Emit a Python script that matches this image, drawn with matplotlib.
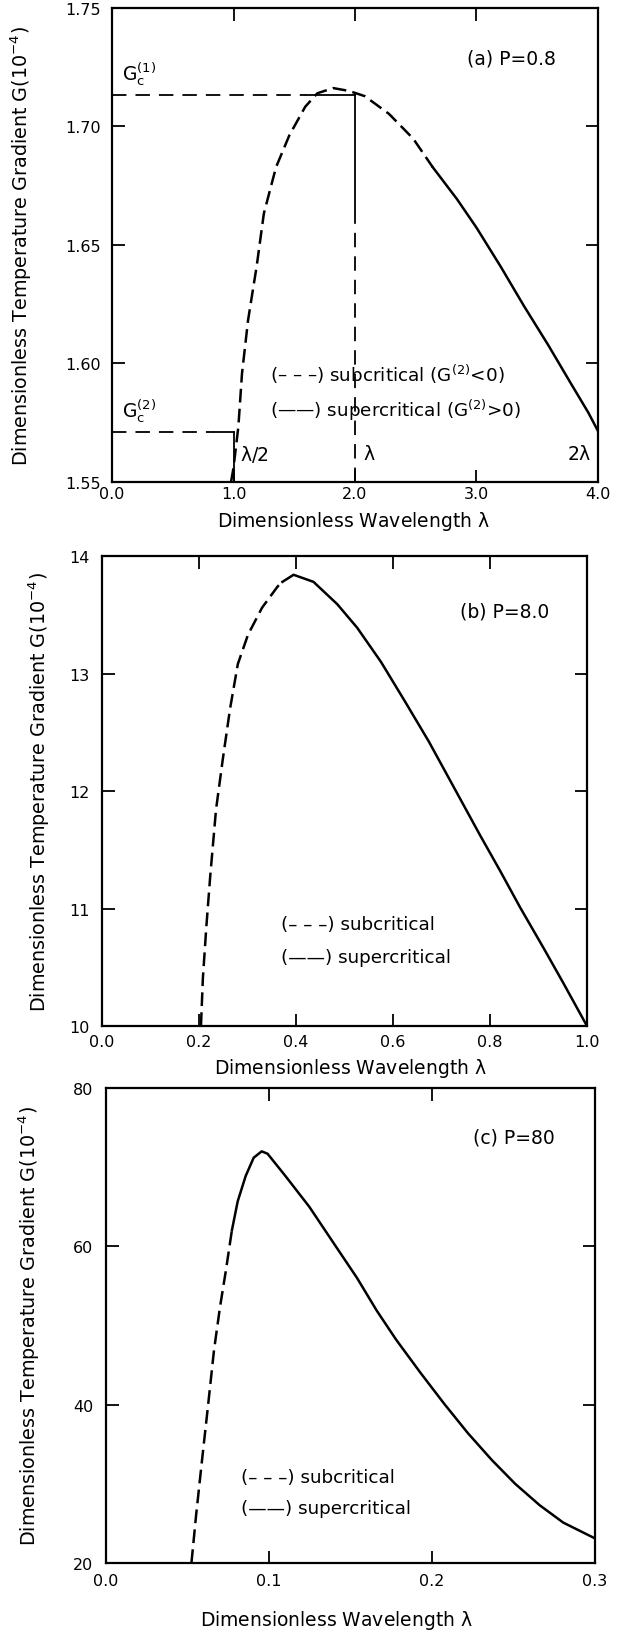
import matplotlib
matplotlib.use("Agg")
import matplotlib.pyplot as plt

plt.rcParams['font.family'] = ['DejaVu Sans']
plt.rcParams['mathtext.default'] = 'regular'

# ---------------- data ----------------
# Panel (a) P = 0.8
lam_a_sub = [0.98, 1.00, 1.04, 1.07, 1.12, 1.19, 1.25, 1.35, 1.46, 1.59, 1.69, 1.82, 1.95, 2.08, 2.28, 2.48, 2.64]
G_a_sub = [1.550, 1.5560, 1.5733, 1.5958, 1.6183, 1.6408, 1.6633, 1.6828, 1.6963, 1.7083, 1.7140, 1.7162, 1.7150, 1.7128, 1.7053, 1.6948, 1.6828]
lam_a_sup = [2.64, 2.84, 3.00, 3.20, 3.39, 3.59, 3.78, 3.92, 4.00]
G_a_sup = [1.6828, 1.6693, 1.6573, 1.6408, 1.6243, 1.6078, 1.5913, 1.5793, 1.5715]
Gc1 = 1.7134
Gc2 = 1.5712

# Panel (b) P = 8.0
lam_b_sub = [0.204, 0.208, 0.215, 0.223, 0.235, 0.249, 0.264, 0.280, 0.301, 0.330, 0.362, 0.372]
G_b_sub = [10.00, 10.41, 10.84, 11.27, 11.84, 12.27, 12.70, 13.08, 13.33, 13.56, 13.74, 13.78]
lam_b_sup = [0.372, 0.395, 0.436, 0.485, 0.526, 0.575, 0.625, 0.674, 0.731, 0.780, 0.821, 0.862, 0.911, 0.952, 1.000]
G_b_sup = [13.78, 13.84, 13.78, 13.59, 13.39, 13.10, 12.76, 12.42, 11.99, 11.62, 11.32, 11.01, 10.66, 10.36, 10.00]

# Panel (c) P = 80
lam_c_sub = [0.0524, 0.0553, 0.0589, 0.0626, 0.0662, 0.0699, 0.0735, 0.0772]
G_c_sub = [20.0, 26.1, 33.0, 39.9, 46.8, 52.3, 56.9, 62.0]
lam_c_sup = [0.0772, 0.0808, 0.0857, 0.0906, 0.0955, 0.0991, 0.110, 0.1247, 0.139, 0.154, 0.166, 0.178, 0.193, 0.2075, 0.222, 0.2367, 0.251, 0.266, 0.2805, 0.300]
G_c_sup = [62.0, 65.7, 68.9, 71.2, 72.0, 71.7, 68.9, 65.0, 60.6, 56.0, 51.9, 48.2, 44.0, 40.1, 36.4, 33.0, 30.0, 27.3, 25.1, 23.1]

xticks_a = [0.0, 1.0, 2.0, 3.0, 4.0]
yticks_a = [1.55, 1.60, 1.65, 1.70, 1.75]
xticks_b = [0.0, 0.2, 0.4, 0.6, 0.8, 1.0]
yticks_b = [10, 11, 12, 13, 14]
xticks_c = [0.0, 0.1, 0.2, 0.3]
yticks_c = [20, 40, 60, 80]

# ---------------- figure ----------------
fig = plt.figure(figsize=(6.24, 16.31), dpi=100)
ax_a = fig.add_axes([0.1795, 0.7039, 0.7788, 0.2906])
ax_b = fig.add_axes([0.1635, 0.3703, 0.7772, 0.2882])
ax_c = fig.add_axes([0.1699, 0.0411, 0.7837, 0.2912])

LW = 1.8
DASH = (5.5, 2.5)
GDASH = (8, 5)
TFS = 11.5
XLFS = 13.5
YLFS = 13.8
AFS = 13.5
LEGFS = 13.2

ylabel = r'Dimensionless Temperature Gradient G(10$^{-4}$)'
xlabel = r'Dimensionless Wavelength $\lambda$'


def style(ax, xticks, yticks, xfmt, yfmt, xpad, ypad):
    ax.set_xticks(xticks)
    ax.set_yticks(yticks)
    ax.set_xticklabels([xfmt.format(v) for v in xticks], fontsize=TFS)
    ax.set_yticklabels([yfmt.format(v) for v in yticks], fontsize=TFS)
    ax.tick_params(direction='in', length=9, width=1.3, top=True, right=True)
    ax.tick_params(axis='x', pad=xpad)
    ax.tick_params(axis='y', pad=ypad)
    for s in ax.spines.values():
        s.set_linewidth(1.6)
    ax.set_xlim(xticks[0], xticks[-1])
    ax.set_ylim(yticks[0], yticks[-1])
    ax.set_ylabel(ylabel, fontsize=YLFS)
    ax.set_xlabel(xlabel, fontsize=XLFS)


# Panel (a)
style(ax_a, xticks_a, yticks_a, '{:.1f}', '{:.2f}', 3, 8)
ax_a.plot(lam_a_sub, G_a_sub, color='black', lw=LW, dashes=DASH)
ax_a.plot(lam_a_sup, G_a_sup, color='black', lw=LW)
ax_a.plot([0.0, 1.6], [Gc1, Gc1], color='black', lw=1.3, dashes=GDASH)
ax_a.plot([1.6, 2.0], [Gc1, Gc1], color='black', lw=1.3)
ax_a.plot([2.0, 2.0], [1.55, 1.665], color='black', lw=1.3, dashes=GDASH)
ax_a.plot([2.0, 2.0], [1.665, Gc1], color='black', lw=1.3)
ax_a.plot([0.0, 0.84], [Gc2, Gc2], color='black', lw=1.3, dashes=GDASH)
ax_a.plot([0.84, 1.0], [Gc2, Gc2], color='black', lw=1.3)
ax_a.plot([1.0, 1.0], [1.55, Gc2], color='black', lw=1.3)
ax_a.text(0.08, 1.7165, r'G$_c^{(1)}$', fontsize=AFS, ha='left', va='bottom')
ax_a.text(0.08, 1.5745, r'G$_c^{(2)}$', fontsize=AFS, ha='left', va='bottom')
ax_a.text(1.05, 1.5618, r'$\lambda$/2', fontsize=AFS, ha='left', va='center')
ax_a.text(2.07, 1.5618, r'$\lambda$', fontsize=AFS, ha='left', va='center')
ax_a.text(3.95, 1.5618, r'2$\lambda$', fontsize=AFS, ha='right', va='center')
ax_a.text(3.29, 1.729, '(a) P=0.8', fontsize=AFS, ha='center', va='center')
ax_a.text(1.30, 1.5956, '(\u2013 \u2013 \u2013) subcritical (G$^{(2)}$<0)', fontsize=LEGFS, ha='left', va='center')
ax_a.text(1.30, 1.5804, '(\u2014\u2014) supercritical (G$^{(2)}$>0)', fontsize=LEGFS, ha='left', va='center')
ax_a.yaxis.set_label_coords(-0.16, 0.5)
ax_a.xaxis.set_label_coords(0.496, -0.057)

# Panel (b)
style(ax_b, xticks_b, yticks_b, '{:.1f}', '{:d}', 6, 9)
ax_b.plot(lam_b_sub, G_b_sub, color='black', lw=LW, dashes=DASH)
ax_b.plot(lam_b_sup, G_b_sup, color='black', lw=LW)
ax_b.text(0.83, 13.53, '(b) P=8.0', fontsize=AFS, ha='center', va='center')
ax_b.text(0.37, 10.87, '(\u2013 \u2013 \u2013) subcritical', fontsize=LEGFS, ha='left', va='center')
ax_b.text(0.37, 10.59, '(\u2014\u2014) supercritical', fontsize=LEGFS, ha='left', va='center')
ax_b.yaxis.set_label_coords(-0.103, 0.5)
ax_b.xaxis.set_label_coords(0.513, -0.064)

# Panel (c)
style(ax_c, xticks_c, yticks_c, '{:.1f}', '{:d}', 7, 9)
ax_c.plot(lam_c_sub, G_c_sub, color='black', lw=LW, dashes=DASH)
ax_c.plot(lam_c_sup, G_c_sup, color='black', lw=LW)
ax_c.text(0.25, 73.8, '(c) P=80', fontsize=AFS, ha='center', va='center')
ax_c.text(0.083, 30.9, '(\u2013 \u2013 \u2013) subcritical', fontsize=LEGFS, ha='left', va='center')
ax_c.text(0.083, 27.0, '(\u2014\u2014) supercritical', fontsize=LEGFS, ha='left', va='center')
ax_c.yaxis.set_label_coords(-0.131, 0.5)
ax_c.xaxis.set_label_coords(0.472, -0.094)

fig.savefig('out.png', dpi=100)
